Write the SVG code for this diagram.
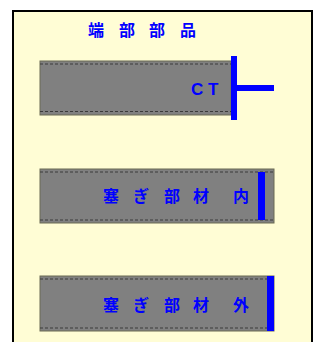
<svg xmlns="http://www.w3.org/2000/svg" width="322" height="342" viewBox="0 0 322 342">
<style>
.lbl{font-family:"Liberation Sans","Noto Sans CJK JP",sans-serif;font-weight:bold;fill:#0000FF;font-size:16px}
.box{fill:#808080;stroke:#6b6b55;stroke-width:1}
.dash{stroke:#3a3a3a;stroke-width:1;stroke-dasharray:3 2;fill:none}
.bar{fill:#0000FF}
</style>
<rect x="0" y="0" width="322" height="342" fill="#ffffff"/>
<rect x="13" y="11" width="299" height="340" fill="#FFFDD5" stroke="#000" stroke-width="2"/>
<g id="title">
<text class="lbl" y="36" x="88 103 119 134 149 164 180">端 部 部 品</text>
</g>
<g id="ct">
<rect class="box" x="40" y="61" width="191" height="54"/>
<line class="dash" x1="40" y1="64" x2="231" y2="64"/>
<line class="dash" x1="40" y1="111.5" x2="231" y2="111.5"/>
<text class="lbl" style="font-size:17px" y="95" x="191 204 208">C T</text>
</g>
<g id="fuchi-uchi">
<rect class="box" x="40" y="169" width="234" height="54"/>
<line class="dash" x1="40" y1="172" x2="274" y2="172"/>
<line class="dash" x1="40" y1="220" x2="274" y2="220"/>
<rect class="bar" x="258" y="172" width="7" height="48"/>
<text class="lbl" y="202" x="103 118 133 149 164 180 193 209 233">塞 ぎ 部 材 内</text>
</g>
<g id="fuchi-soto">
<rect class="box" x="40" y="276" width="234" height="55"/>
<line class="dash" x1="40" y1="279" x2="274" y2="279"/>
<line class="dash" x1="40" y1="328" x2="274" y2="328"/>
<rect class="bar" x="267" y="276" width="7" height="55"/>
<text class="lbl" y="311" x="103 118 133 149 164 180 193 209 233">塞 ぎ 部 材 外</text>
</g>
<g id="connectors">
<rect class="bar" x="231" y="56" width="6" height="64"/>
<rect class="bar" x="237" y="85" width="37" height="6"/>
</g>
</svg>
